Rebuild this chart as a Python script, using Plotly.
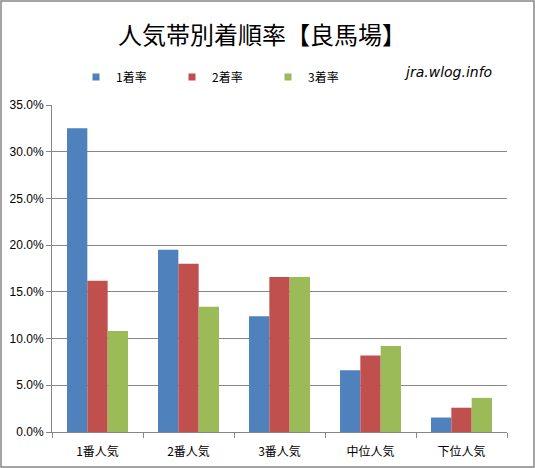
import plotly.graph_objects as go

categories = ["1番人気", "2番人気", "3番人気", "中位人気", "下位人気"]
series_names = ["1着率", "2着率", "3着率"]
win_rate = [0.325, 0.195, 0.124, 0.066, 0.0155]
second_rate = [0.162, 0.180, 0.166, 0.082, 0.026]
third_rate = [0.108, 0.134, 0.166, 0.092, 0.0365]
colors = ["#4F81BD", "#C0504D", "#9BBB59"]
y_ticks = [0, 0.05, 0.10, 0.15, 0.20, 0.25, 0.30, 0.35]

W, H = 535, 468
ML, MR, MT, MB = 52, 28, 105, 36
pw = W - ML - MR
ph = H - MT - MB

fig = go.Figure()
for name, vals, c in zip(series_names, [win_rate, second_rate, third_rate], colors):
    fig.add_trace(go.Bar(x=categories, y=vals, name=name, showlegend=False,
                         marker=dict(color=c, line=dict(width=0))))
# small square legend keys
for name, c in zip(series_names, colors):
    fig.add_trace(go.Scatter(x=[None], y=[None], mode="markers", name=name,
                             marker=dict(symbol="square", size=7, color=c)))

font_jp = "Noto Sans CJK JP"
fig.update_layout(
    width=W, height=H,
    margin=dict(l=ML, r=MR, t=MT, b=MB, autoexpand=False),
    paper_bgcolor="white", plot_bgcolor="white",
    barmode="group", bargap=0.33, bargroupgap=0,
    font=dict(family=font_jp, size=12, color="#000000"),
    title=dict(text="人気帯別着順率【良馬場】", x=(262 - ML) / pw, xref="paper", xanchor="center",
               y=1 - 36 / H, yanchor="middle", font=dict(family=font_jp, size=24, color="#000000")),
    legend=dict(orientation="h", x=(76 - ML) / pw, xanchor="left", y=1 + (MT - 77) / ph, yanchor="middle",
                entrywidth=51, entrywidthmode="pixels", font=dict(family=font_jp, size=12, color="#000000"),
                itemclick=False, bgcolor="rgba(0,0,0,0)"),
    xaxis=dict(showline=True, linecolor="#868686", linewidth=1, ticks="outside", tickcolor="#868686",
               ticklen=5, tickson="boundaries", showgrid=False, ticklabelstandoff=9, automargin=False,
               tickfont=dict(family=font_jp, size=12, color="#000000")),
    yaxis=dict(range=[0, 0.35], tickvals=y_ticks, tickformat=".1%", showline=True, linecolor="#868686",
               ticks="outside", tickcolor="#868686", ticklen=5, showgrid=True, gridcolor="#868686",
               gridwidth=1, zeroline=False, automargin=False,
               tickfont=dict(family="Liberation Sans", size=12, color="#000000")),
    annotations=[dict(text="jra.wlog.info", xref="paper", yref="paper", x=(448 - ML) / pw, y=1 + (MT - 72) / ph,
                      xanchor="center", yanchor="middle", showarrow=False,
                      font=dict(family="DejaVu Sans", size=14, color="#000000", style="italic"))],
    shapes=[dict(type="rect", xref="paper", yref="paper", x0=-(ML - 1) / pw, x1=1 + (MR - 1) / pw,
                 y0=-(MB - 1) / ph, y1=1 + (MT - 1) / ph, line=dict(color="#868686", width=1.5))],
)

fig.write_html("out.html", config={"displayModeBar": False},
               post_script="document.body.style.margin='0';")
